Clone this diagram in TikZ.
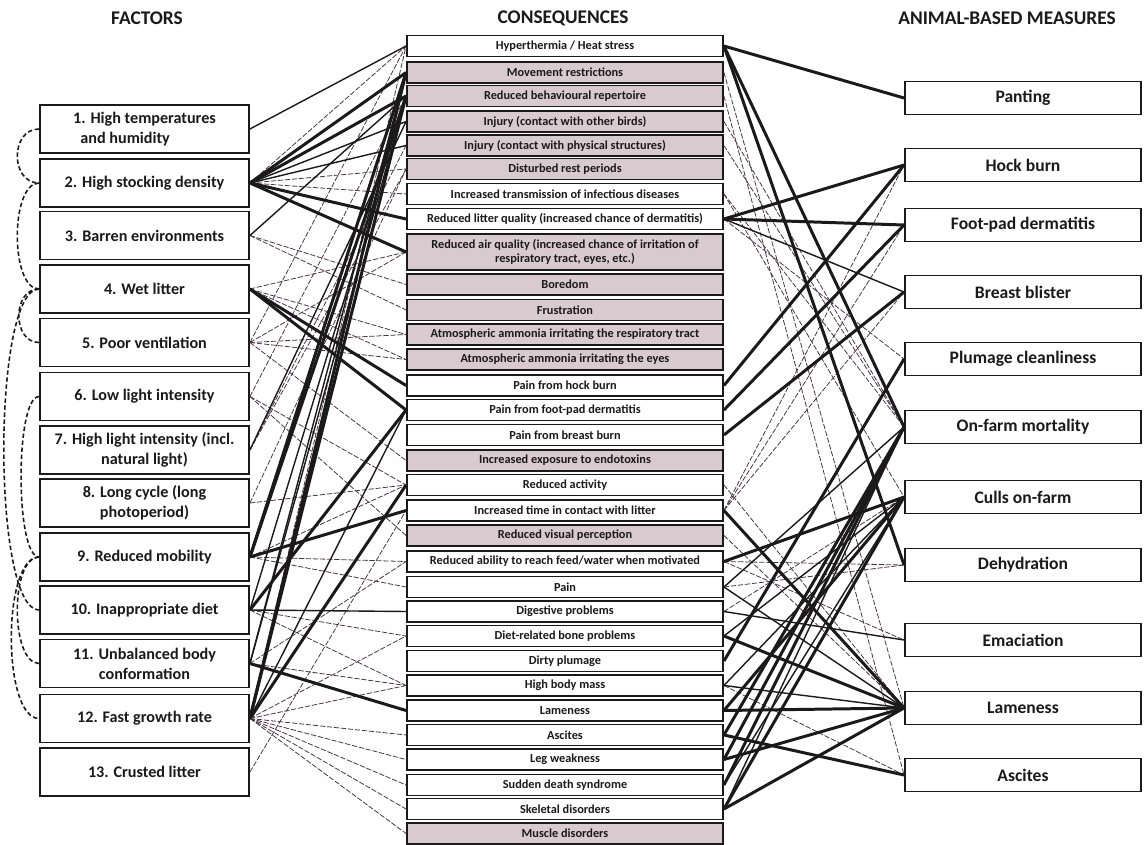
\documentclass[tikz,border=0pt]{standalone}
\usepackage{fontspec}
\setmainfont{Carlito}
\usepackage{xcolor}
\definecolor{ink}{HTML}{1A1A1A}
\definecolor{shade}{HTML}{D8CACE}
\definecolor{faint}{HTML}{4B3442}

\begin{document}
\begin{tikzpicture}[
    x=0.02cm, y=-0.02cm,
    head/.style={font=\fontsize{11}{13}\selectfont\bfseries, text=ink},
    box/.style={draw=ink, line width=1.1pt, inner sep=1pt, text=ink, fill=white},
    factor/.style={box, minimum width=4.18cm, minimum height=0.96cm, align=center,
      font=\fontsize{9.2}{11.4}\selectfont\bfseries},
    cons/.style={box, minimum width=6.32cm, minimum height=0.42cm, align=center,
      font=\fontsize{7}{8.4}\selectfont\bfseries},
    grey/.style={cons, fill=shade},
    abm/.style={box, minimum width=4.72cm, minimum height=0.66cm,
      font=\fontsize{10}{12}\selectfont\bfseries},
    strong/.style={ink, line width=1.7pt},
    medium/.style={ink, line width=0.8pt},
    weak/.style={faint, line width=0.45pt, dash pattern=on 3pt off 1pt},
    related/.style={ink, line width=0.9pt, dash pattern=on 2.5pt off 1.5pt}
  ]
  \useasboundingbox (0,0) rectangle (1144,845);

  % Column titles
  \node[head] (hfac) at (147,18) {FACTORS};
  \node[head] (hcons) at (563,18) {CONSEQUENCES};
  \node[head] (habm) at (1007,18) {ANIMAL-BASED MEASURES};

  % Factors
  \node[factor, align=left] (f1) at (144.5,129) {1. High temperatures\\\hspace{0.45em}and humidity};
  \node[factor] (f2) at (144.5,183) {2. High stocking density};
  \node[factor] (f3) at (144.5,235.5) {3. Barren environments};
  \node[factor] (f4) at (144.5,289) {4. Wet litter};
  \node[factor] (f5) at (144.5,342.5) {5. Poor ventilation};
  \node[factor] (f6) at (144.5,396.5) {6. Low light intensity};
  \node[factor] (f7) at (144.5,450) {7. High light intensity (incl.\\natural light)};
  \node[factor] (f8) at (144.5,503) {8. Long cycle (long\\photoperiod)};
  \node[factor] (f9) at (144.5,557) {9. Reduced mobility};
  \node[factor] (f10) at (144.5,610) {10. Inappropriate diet};
  \node[factor] (f11) at (144.5,663.5) {11. Unbalanced body\\conformation};
  \node[factor] (f12) at (144.5,718.5) {12. Fast growth rate};
  \node[factor] (f13) at (144.5,772) {13. Crusted litter};

  % Consequences (grey = shaded in the original)
  \node[cons] (c1) at (565,46) {Hyperthermia / Heat stress};
  \node[grey] (c2) at (565,72.5) {Movement restrictions};
  \node[grey] (c3) at (565,96) {Reduced behavioural repertoire};
  \node[grey] (c4) at (565,121.5) {Injury (contact with other birds)};
  \node[grey] (c5) at (565,145.5) {Injury (contact with physical structures)};
  \node[grey] (c6) at (565,169) {Disturbed rest periods};
  \node[cons] (c7) at (565,194) {Increased transmission of infectious diseases};
  \node[cons] (c8) at (565,219) {Reduced litter quality (increased chance of dermatitis)};
  \node[grey, minimum height=0.72cm] (c9) at (565,252) {Reduced air quality (increased chance of irritation of\\respiratory tract, eyes, etc.)};
  \node[grey] (c10) at (565,284.5) {Boredom};
  \node[grey] (c11) at (565,310) {Frustration};
  \node[grey] (c12) at (565,334.5) {Atmospheric ammonia irritating the respiratory tract};
  \node[grey] (c13) at (565,359.5) {Atmospheric ammonia irritating the eyes};
  \node[cons] (c14) at (565,385.5) {Pain from hock burn};
  \node[cons] (c15) at (565,410) {Pain from foot-pad dermatitis};
  \node[cons] (c16) at (565,435) {Pain from breast burn};
  \node[grey] (c17) at (565,460.5) {Increased exposure to endotoxins};
  \node[cons] (c18) at (565,485) {Reduced activity};
  \node[cons] (c19) at (565,510.5) {Increased time in contact with litter};
  \node[grey] (c20) at (565,535.5) {Reduced visual perception};
  \node[cons] (c21) at (565,561.5) {Reduced ability to reach feed/water when motivated};
  \node[cons] (c22) at (565,587) {Pain};
  \node[cons] (c23) at (565,611.5) {Digestive problems};
  \node[cons] (c24) at (565,636) {Diet-related bone problems};
  \node[cons] (c25) at (565,661) {Dirty plumage};
  \node[cons] (c26) at (565,685.5) {High body mass};
  \node[cons] (c27) at (565,710.5) {Lameness};
  \node[cons] (c28) at (565,735) {Ascites};
  \node[cons] (c29) at (565,759.5) {Leg weakness};
  \node[cons] (c30) at (565,785) {Sudden death syndrome};
  \node[cons] (c31) at (565,809) {Skeletal disorders};
  \node[grey] (c32) at (565,833.5) {Muscle disorders};

  % Animal-based measures
  \node[abm] (m1) at (1023,98) {Panting};
  \node[abm] (m2) at (1023,165) {Hock burn};
  \node[abm] (m3) at (1023,225) {Foot-pad dermatitis};
  \node[abm] (m4) at (1023,292) {Breast blister};
  \node[abm] (m5) at (1023,359) {Plumage cleanliness};
  \node[abm] (m6) at (1023,427) {On-farm mortality};
  \node[abm] (m7) at (1023,497) {Culls on-farm};
  \node[abm] (m8) at (1023,565) {Dehydration};
  \node[abm] (m9) at (1023,640) {Emaciation};
  \node[abm] (m10) at (1023,708) {Lameness};
  \node[abm] (m11) at (1023,775) {Ascites};

  % Links between related factors
  \draw[related] (f1.west) .. controls +(-29,0) and +(-29,0) .. (f2.west);
  \draw[related] (f2.west) .. controls +(-29,0) and +(-29,0) .. (f4.west);
  \draw[related] (f4.west) .. controls +(-27,0) and +(-27,0) .. (f5.west);
  \draw[related] (f4.west) .. controls +(-47,0) and +(-47,0) .. (f10.west);
  \draw[related] (f6.west) .. controls +(-24,0) and +(-24,0) .. (f9.west);
  \draw[related] (f9.west) .. controls +(-29,0) and +(-29,0) .. (f11.west);
  \draw[related] (f9.west) .. controls +(-37,0) and +(-37,0) .. (f12.west);

  % Factors -> consequences
  \foreach \a/\b in {f2/c1, f2/c6, f2/c7, f3/c10, f3/c11, f4/c9, f4/c12, f4/c13,
      f5/c1, f5/c9, f5/c12, f5/c13, f5/c17, f6/c3, f6/c18, f6/c20, f7/c5, f7/c6,
      f8/c6, f8/c18, f9/c18, f9/c21, f9/c22, f10/c24, f10/c26, f11/c21, f11/c26,
      f12/c1, f12/c24, f12/c26, f12/c28, f12/c29, f12/c30, f12/c31, f12/c32, f13/c19}
    \draw[weak] (\a.east) -- (\b.west);
  \foreach \a/\b in {f1/c1, f2/c4, f2/c5, f3/c3, f7/c4, f10/c3, f10/c23, f11/c2,
      f11/c3, f12/c15}
    \draw[medium] (\a.east) -- (\b.west);
  \foreach \a/\b in {f2/c2, f2/c3, f2/c8, f2/c9, f4/c14, f4/c15, f9/c2, f9/c3,
      f9/c19, f10/c15, f11/c27, f12/c2, f12/c3, f12/c18}
    \draw[strong] (\a.east) -- (\b.west);

  % Consequences -> animal-based measures
  \foreach \a/\b in {c2/m10, c3/m11, c4/m6, c5/m6, c7/m6, c7/m7, c8/m5, c18/m10,
      c19/m2, c19/m3, c19/m4, c20/m10, c21/m8, c21/m9, c22/m8, c23/m7, c26/m11}
    \draw[weak] (\a.east) -- (\b.west);
  \foreach \a/\b in {c8/m4, c22/m6, c22/m10, c23/m9, c24/m7, c26/m7, c26/m10,
      c30/m7, c31/m6}
    \draw[medium] (\a.east) -- (\b.west);
  \foreach \a/\b in {c1/m1, c1/m6, c1/m8, c8/m2, c8/m3, c14/m2, c15/m3, c16/m4,
      c19/m10, c21/m7, c24/m10, c25/m5, c27/m7, c27/m10, c28/m6, c28/m11,
      c29/m6, c29/m10, c30/m6, c31/m7, c31/m10}
    \draw[strong] (\a.east) -- (\b.west);
\end{tikzpicture}
\end{document}
